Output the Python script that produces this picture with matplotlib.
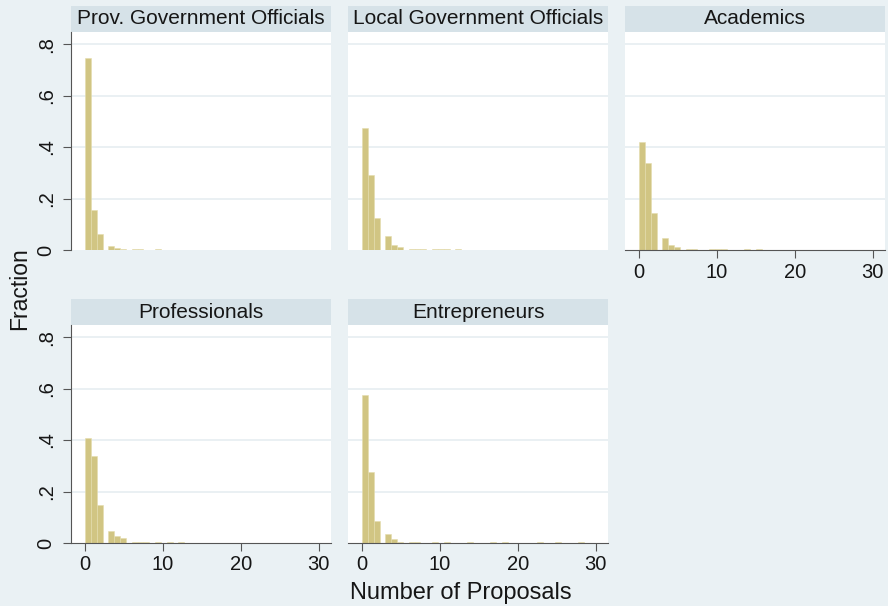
import numpy as np
import matplotlib
matplotlib.use("Agg")
import matplotlib.pyplot as plt
from matplotlib.patches import Rectangle

plt.rcParams['font.family'] = ['Liberation Sans', 'DejaVu Sans']

# data: fraction of members by number of proposals (0, 1, 2, ...)
groups = ['Prov. Government Officials', 'Local Government Officials', 'Academics',
          'Professionals', 'Entrepreneurs']
n_proposals = np.arange(0, 31)

prov = [0.747, 0.155, 0.061, 0.017, 0.006, 0.004, 0.003, 0.002, 0, 0.005]
local = [0.475, 0.291, 0.125, 0.056, 0.019, 0.012, 0.004, 0.004, 0.003,
         0.003, 0.003, 0.003, 0.002]
academics = [0.420, 0.337, 0.145, 0.045, 0.020, 0.010, 0.003, 0.003, 0,
             0.002, 0.003, 0.002, 0, 0, 0.003, 0.003]
professionals = [0.408, 0.338, 0.146, 0.046, 0.026, 0.020, 0.003, 0.003,
                 0.002, 0.002, 0, 0.003, 0.003]
entrepreneurs = [0.575, 0.275, 0.085, 0.035, 0.015, 0.003, 0.002, 0.002, 0,
                 0.002, 0, 0.002, 0, 0, 0.002, 0, 0, 0.002, 0.002, 0, 0, 0,
                 0, 0.002, 0, 0.002, 0, 0, 0.002]
fractions = [prov, local, academics, professionals, entrepreneurs]

bins = np.arange(0, 30.76, 0.75)
yticks = [0, 0.2, 0.4, 0.6, 0.8]
yticklabels = ['0', '.2', '.4', '.6', '.8']
xticks = [0, 10, 20, 30]

bg = '#eaf1f4'
strip = '#d6e2e8'
bar_color = '#d1c583'
grid_color = '#e6eef1'
axis_color = '#555555'
text_color = '#161616'

W, H = 888, 606
fig = plt.figure(figsize=(W / 100, H / 100), dpi=100, facecolor=bg)

col_left = [71, 348, 625]
col_w = 260
row_top = [32, 325]
row_h = 218
strip_h = 26

for i, (name, frac) in enumerate(zip(groups, fractions)):
    r, c = divmod(i, 3)
    left = col_left[c] / W
    bottom = (H - row_top[r] - row_h) / H
    ax = fig.add_axes([left, bottom, col_w / W, row_h / H])
    ax.set_facecolor('white')

    vals = n_proposals[:len(frac)]
    ax.hist(vals, bins=bins, weights=frac, color=bar_color,
            edgecolor='#e4dcae', linewidth=0.4, zorder=2)

    ax.set_xlim(-1.8, 31.6)
    ax.set_ylim(0, 0.847)
    ax.set_yticks(yticks)
    for y in yticks[1:]:
        ax.axhline(y, color=grid_color, lw=1.2, zorder=1)

    for s in ax.spines.values():
        s.set_visible(False)

    # y axis only on the first column
    if c == 0:
        ax.spines['left'].set_visible(True)
        ax.spines['left'].set_color(axis_color)
        ax.set_yticklabels(yticklabels, rotation=90, va='center', fontsize=14.5,
                           color=text_color)
        ax.tick_params(axis='y', length=6, color=axis_color, pad=5)
    else:
        ax.tick_params(axis='y', left=False, labelleft=False)

    # x axis on the bottom panel of each column
    if i >= 2:
        ax.spines['bottom'].set_visible(True)
        ax.spines['bottom'].set_color(axis_color)
        ax.set_xticks(xticks)
        ax.tick_params(axis='x', length=6, color=axis_color, labelsize=14.5,
                       labelcolor=text_color, pad=3)
    else:
        ax.tick_params(axis='x', bottom=False, labelbottom=False)

    # header strip
    ax.add_patch(Rectangle((0, 1), 1, strip_h / row_h, transform=ax.transAxes,
                           facecolor=strip, edgecolor='none', clip_on=False))
    ax.text(0.5, 1 + strip_h / row_h / 2, name, transform=ax.transAxes,
            ha='center', va='center', fontsize=15, color=text_color)

fig.text(20 / W, 1 - 289 / H, 'Fraction', rotation=90, ha='center', va='center',
         fontsize=16.5, color=text_color)
fig.text(461 / W, 1 - 593 / H, 'Number of Proposals', ha='center', va='center',
         fontsize=17, color=text_color)

fig.savefig('out.png', dpi=100, facecolor=bg)
